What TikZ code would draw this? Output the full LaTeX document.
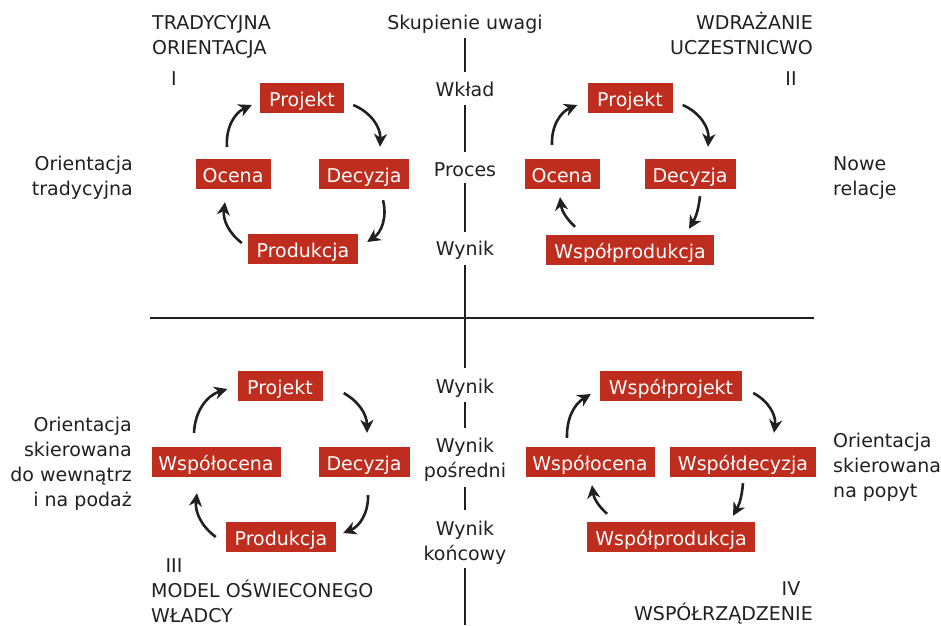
\documentclass[tikz,border=0pt]{standalone}
\usepackage{fontspec}
\setmainfont{DejaVu Sans}
\usetikzlibrary{arrows.meta}
\definecolor{ink}{HTML}{231F20}
\definecolor{boxred}{HTML}{BE2D1E}
\newcommand{\mytab}[2]{\begin{tabular}[t]{@{}#1@{}}#2\end{tabular}}
\begin{document}
\begin{tikzpicture}[x=1pt,y=-1pt,
  font=\fontsize{19}{25}\selectfont, text=ink,
  box/.style={fill=boxred, text=white, minimum height=30pt, inner xsep=0pt, inner ysep=0pt, text height=17pt, text depth=0pt},
  lbl/.style={inner sep=0pt},
  axis/.style={draw=ink, line width=2.6pt},
  arr/.style={draw=ink, line width=2.6pt, -{Stealth[length=13pt,width=13pt,inset=4pt]}}]
\useasboundingbox (0,0) rectangle (941,625);

% axis labels
\node[lbl, anchor=base] (skup) at (465,29) {Skupienie uwagi};
\node[lbl, anchor=base] (wklad) at (465,96) {Wkład};
\node[lbl, anchor=base] (proces) at (465,176) {Proces};
\node[lbl, anchor=base] (wyn1) at (465,255) {Wynik};
\node[lbl, anchor=base] (wyn2) at (465,393) {Wynik};
\node[lbl, anchor=base] (wyn3) at (465,452) {\mytab{c}{Wynik\\pośredni}};
\node[lbl, anchor=base] (wyn4) at (465,535) {\mytab{c}{Wynik\\końcowy}};
\coordinate (vbot) at (465,625);
\coordinate (hl) at (150,318);
\coordinate (hr) at (814,318);

\draw[axis] ([shift={(0,9)}]skup.base) -- ([shift={(0,-24)}]wklad.base);
\draw[axis] ([shift={(0,9)}]wklad.base) -- ([shift={(0,-24)}]proces.base);
\draw[axis] ([shift={(0,7)}]proces.base) -- ([shift={(0,-23)}]wyn1.base);
\draw[axis] ([shift={(0,10)}]wyn1.base) -- ([shift={(0,-25)}]wyn2.base);
\draw[axis] ([shift={(0,9)}]wyn2.base) -- ([shift={(0,-24)}]wyn3.base);
\draw[axis] ([shift={(0,35)}]wyn3.base) -- ([shift={(0,-25)}]wyn4.base);
\draw[axis] ([shift={(0,33)}]wyn4.base) -- (vbot);
\draw[axis] (hl) -- (hr);

% quadrant titles
\node[lbl, anchor=base west] (t1) at (152,29) {\mytab{l}{TRADYCYJNA\\ORIENTACJA}};
\node[lbl, anchor=base] (n1) at (174,85) {I};
\node[lbl, anchor=base east] (t2) at (813,29) {\mytab{r}{WDRAŻANIE\\UCZESTNICWO}};
\node[lbl, anchor=base] (n2) at (791,85) {II};
\node[lbl, anchor=base] (n3) at (174,572) {III};
\node[lbl, anchor=base west] (t3) at (151,597) {\mytab{l}{MODEL OŚWIECONEGO\\WŁADCY}};
\node[lbl, anchor=base] (n4) at (791,595) {IV};
\node[lbl, anchor=base east] (t4) at (813,620) {WSPÓŁRZĄDZENIE};

% side labels
\node[lbl, anchor=base east] (s1) at (133,170) {\mytab{r}{Orientacja\\tradycyjna}};
\node[lbl, anchor=base west] (s2) at (833,170) {\mytab{l}{Nowe\\relacje}};
\node[lbl, anchor=base east] (s3) at (132,431) {\mytab{r}{Orientacja\\skierowana\\do wewnątrz\\i na podaż}};
\node[lbl, anchor=base west] (s4) at (833,447) {\mytab{l}{Orientacja\\skierowana\\na popyt}};

% quadrant I
\node[box, minimum width=84pt] (p1) at (302,98) {Projekt};
\node[box, minimum width=90pt] (d1) at (364,174) {Decyzja};
\node[box, minimum width=75pt] (o1) at (233,174) {Ocena};
\node[box, minimum width=110pt] (r1) at (303,249) {Produkcja};
\draw[arr] ([shift={(9,7)}]p1.east) to[bend left=35] ([shift={(16,-12)}]d1.north);
\draw[arr] ([shift={(19,11)}]d1.south) to[bend left=35] ([shift={(9,-7)}]r1.east);
\draw[arr] ([shift={(-6,-6)}]r1.west) to[bend left=30] ([shift={(-8,13)}]o1.south);
\draw[arr] ([shift={(-6,-12)}]o1.north) to[bend left=35] ([shift={(-8,7)}]p1.west);

% quadrant II
\node[box, minimum width=85pt] (p2) at (630,98) {Projekt};
\node[box, minimum width=91pt] (d2) at (690,174) {Decyzja};
\node[box, minimum width=75pt] (o2) at (562,174) {Ocena};
\node[box, minimum width=168pt] (r2) at (630,250) {Współprodukcja};
\draw[arr] ([shift={(10,7)}]p2.east) to[bend left=35] ([shift={(18,-12)}]d2.north);
\draw[arr] ([shift={(10,7)}]d2.south) to[bend left=12] ([shift={(59,-6)}]r2.north);
\draw[arr] ([shift={(-55,-8)}]r2.north) to[bend left=20] ([shift={(-2,8)}]o2.south);
\draw[arr] ([shift={(-10,-14)}]o2.north) to[bend left=35] ([shift={(-10,7)}]p2.west);

% quadrant III
\node[box, minimum width=85pt] (p3) at (280,386) {Projekt};
\node[box, minimum width=91pt] (d3) at (364,462) {Decyzja};
\node[box, minimum width=129pt] (o3) at (216,462) {Współocena};
\node[box, minimum width=110pt] (r3) at (281,537) {Produkcja};
\draw[arr] ([shift={(21,7)}]p3.east) to[bend left=30] ([shift={(3,-14)}]d3.north);
\draw[arr] ([shift={(4,18)}]d3.south) to[bend left=35] ([shift={(7,-4)}]r3.east);
\draw[arr] ([shift={(-10,0)}]r3.west) to[bend left=30] ([shift={(-19,16)}]o3.south);
\draw[arr] ([shift={(-22,-14)}]o3.north) to[bend left=35] ([shift={(-10,3)}]p3.west);

% quadrant IV
\node[box, minimum width=142pt] (p4) at (671,386) {Współprojekt};
\node[box, minimum width=146pt] (d4) at (743,462) {Współdecyzja};
\node[box, minimum width=129pt] (o4) at (590,462) {Współocena};
\node[box, minimum width=168pt] (r4) at (671,537) {Współprodukcja};
\draw[arr] ([shift={(11,7)}]p4.east) to[bend left=35] ([shift={(31,-14)}]d4.north);
\draw[arr] ([shift={(0,6)}]d4.south) to[bend left=12] ([shift={(62,-6)}]r4.north);
\draw[arr] ([shift={(-64,-8)}]r4.north) to[bend left=20] ([shift={(2,8)}]o4.south);
\draw[arr] ([shift={(-23,-9)}]o4.north) to[bend left=30] ([shift={(-9,8)}]p4.west);
\end{tikzpicture}
\end{document}
